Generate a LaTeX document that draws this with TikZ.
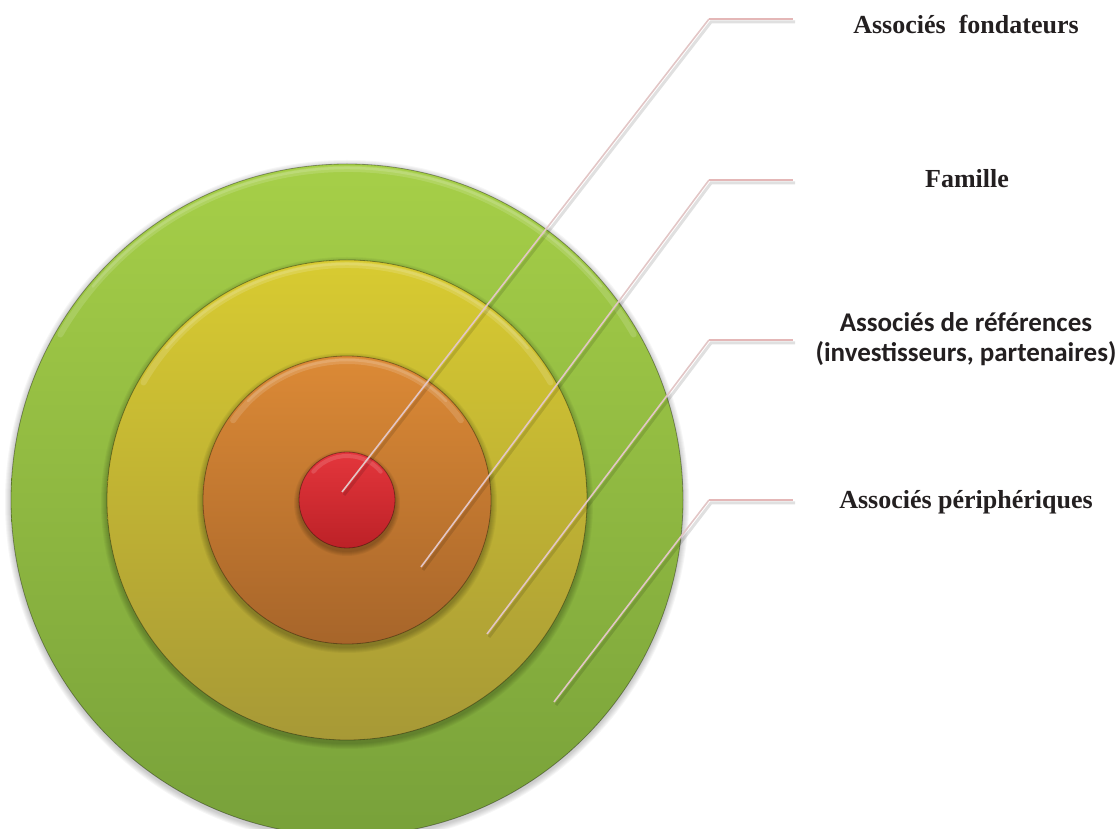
\documentclass[tikz,border=0pt]{standalone}
\usepackage{fontspec}
\setmainfont{Liberation Serif}
\newfontfamily\calib{Carlito}
\definecolor{gTop}{HTML}{A6CF48}
\definecolor{gBot}{HTML}{78A13A}
\definecolor{yTop}{HTML}{D8CB31}
\definecolor{yBot}{HTML}{A79936}
\definecolor{oTop}{HTML}{DC8A36}
\definecolor{oBot}{HTML}{A7652A}
\definecolor{rTop}{HTML}{E4363C}
\definecolor{rBot}{HTML}{BC2127}
\definecolor{leadline}{HTML}{E2C6C6}
\definecolor{leadhor}{HTML}{E4B7B7}
\definecolor{txt}{HTML}{231F20}
\tikzset{
  disc/.style={circle, inner sep=0pt, minimum size=#1, draw=black, draw opacity=0.35, line width=0.8pt},
  leader/.style={draw=leadline, line width=1.6pt, line join=miter},
  leadshadow/.style={draw=black, opacity=0.12, line width=3pt},
  labserif/.style={font=\bfseries\fontsize{26}{30}\selectfont, text=txt, anchor=base, inner sep=0pt},
  labsans/.style={font=\calib\bfseries\fontsize{27}{30}\selectfont, text=txt, anchor=base, inner sep=0pt},
  hilite/.style={draw=white, opacity=0.14, line width=6pt, line cap=round},
  hilitein/.style={draw=white, opacity=0.14, line width=2.5pt, line cap=round}
}
\begin{document}
\begin{tikzpicture}[x=1pt,y=1pt]
\useasboundingbox (0,0) rectangle (1120,828);
\begin{scope}
\clip (0,0) rectangle (1120,828);
\coordinate (ctr) at (347,328);
% outer green
\foreach \k in {1,...,6}{\fill[black,opacity=0.035] ([yshift=-2pt]ctr) circle (336pt+\k pt);}
\node[disc=672pt, top color=gTop, bottom color=gBot] (green) at (ctr) {};
\draw[hilite] ([shift={(150:331pt)}]ctr) arc[start angle=150,end angle=30,radius=331pt];
\draw[hilitein] ([shift={(140:332pt)}]ctr) arc[start angle=140,end angle=40,radius=332pt];
% yellow
\foreach \k in {1,...,6}{\fill[black,opacity=0.04] ([yshift=-3pt]ctr) circle (240pt+\k pt);}
\node[disc=480pt, top color=yTop, bottom color=yBot] (yellow) at (ctr) {};
\draw[hilite] ([shift={(150:235pt)}]ctr) arc[start angle=150,end angle=30,radius=235pt];
\draw[hilitein] ([shift={(140:236pt)}]ctr) arc[start angle=140,end angle=40,radius=236pt];
% orange
\foreach \k in {1,...,6}{\fill[black,opacity=0.045] ([yshift=-3pt]ctr) circle (144pt+\k pt);}
\node[disc=288pt, top color=oTop, bottom color=oBot] (orange) at (ctr) {};
\draw[hilite] ([shift={(145:139pt)}]ctr) arc[start angle=145,end angle=35,radius=139pt];
\draw[hilitein] ([shift={(135:140pt)}]ctr) arc[start angle=135,end angle=45,radius=140pt];
% red
\foreach \k in {1,...,5}{\fill[black,opacity=0.05] ([yshift=-3pt]ctr) circle (48pt+\k pt);}
\node[disc=96pt, top color=rTop, bottom color=rBot] (red) at (ctr) {};
\draw[hilite, line width=4pt] ([shift={(140:44pt)}]ctr) arc[start angle=140,end angle=40,radius=44pt];
\end{scope}
% leader coordinates
\coordinate (p1) at (342,336); \coordinate (e1) at (709,809); \coordinate (h1) at (793,809);
\coordinate (p2) at (421,261); \coordinate (e2) at (709,648); \coordinate (h2) at (793,648);
\coordinate (p3) at (487,194); \coordinate (e3) at (709,488); \coordinate (h3) at (793,488);
\coordinate (p4) at (554,126); \coordinate (e4) at (709,328); \coordinate (h4) at (793,328);
\foreach \i in {1,...,4}{
  \draw[leadshadow] ([shift={(2pt,-3pt)}]p\i) -- ([shift={(2pt,-3pt)}]e\i) -- ([shift={(2pt,-3pt)}]h\i);
  \draw[leader] (p\i) -- (e\i);
  \draw[leader, draw=leadhor] (e\i) -- (h\i);
}
% labels
\node[labserif] (lab1) at (966,794) {Associés\ \ fondateurs};
\node[labserif] (lab2) at (967,640) {Famille};
\node[labsans] (lab3a) at (966,496) {Associés de références};
\node[labsans] (lab3b) at (966,466) {(investisseurs, partenaires)};
\node[labserif] (lab4) at (966,319) {Associés périphériques};
\end{tikzpicture}
\end{document}
